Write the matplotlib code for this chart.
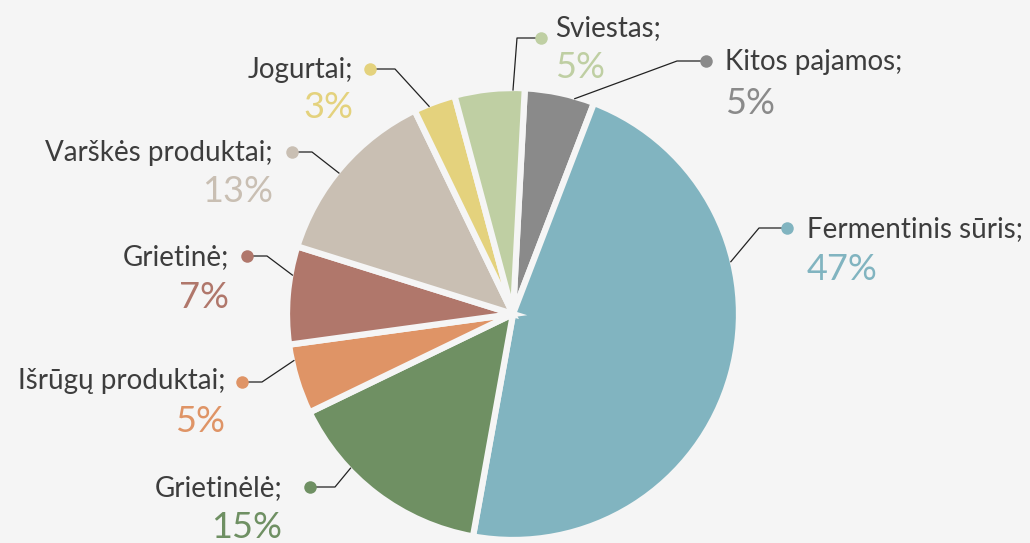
import numpy as np
import matplotlib.pyplot as plt

# data (clockwise from the top)
names = ['Kitos pajamos;', 'Fermentinis sūris;', 'Grietinėlė;', 'Išrūgų produktai;',
         'Grietinė;', 'Varškės produktai;', 'Jogurtai;', 'Sviestas;']
shares = [5, 47, 15, 5, 7, 13, 3, 5]
pct_labels = ['5%', '47%', '15%', '5%', '7%', '13%', '3%', '5%']
colors = ['#8a8a8a', '#81b4c0', '#6f9063', '#df9466',
          '#b0776b', '#c9bfb3', '#e4d27d', '#bfcfa3']

BG = '#f5f5f5'
TXT = '#3d3d3d'
W, H = 1030, 543

# layout (pixel coords, y from top)
cx, cy, rad = 513, 314, 226
# angle where leader leaves the wedge, elbow point, dot point, side
leader_ang = [74, 13.5, 223.5, 192, 170, 141, 112, 90]
elbows = [(677, 61), (759, 228), (335, 487), (262, 382), (267, 256), (312, 152), (395, 69), (517, 38)]
dots = [(706, 61), (787, 228), (310, 487), (242, 382), (247, 256), (292, 152), (370, 69), (541, 38)]
text_x = [725, 807, 282, 225, 229, 273, 353, 555]
name_dy = [1, 1, 1, -1, 1, 1, 1, -10]
pct_dy = [43, 42, 41, 39, 42, 39, 39, 30]
side = ['l', 'l', 'r', 'r', 'r', 'r', 'r', 'l']


def fy(y):
    return H - y


fig = plt.figure(figsize=(W / 100, H / 100), dpi=100, facecolor=BG)
ax = fig.add_axes([0, 0, 1, 1])
ax.set_facecolor(BG)

ax.pie(shares, colors=colors, startangle=87, counterclock=False,
       center=(cx, fy(cy)), radius=rad,
       wedgeprops=dict(edgecolor=BG, linewidth=4.5))

ax.set_xlim(0, W)
ax.set_ylim(0, H)
ax.set_aspect('equal')
ax.axis('off')

for i in range(len(names)):
    a = np.deg2rad(leader_ang[i])
    x0 = cx + (rad - 2) * np.cos(a)
    y0 = fy(cy) + (rad - 2) * np.sin(a)
    ex, ey = elbows[i]
    dx, dy = dots[i]
    ax.plot([x0, ex, dx], [y0, fy(ey), fy(dy)], color='#222222', lw=0.9, zorder=3)
    ax.plot(dx, fy(dy), 'o', ms=9, color=colors[i], mec='none', zorder=4)
    ha = 'left' if side[i] == 'l' else 'right'
    ax.text(text_x[i], fy(dy + name_dy[i]), names[i], ha=ha, va='center', fontsize=20,
            color=TXT, family='Lato')
    ax.text(text_x[i], fy(dy + pct_dy[i]), pct_labels[i], ha=ha, va='center', fontsize=26,
            color=colors[i], family='Lato')

fig.savefig('out.png', dpi=100, facecolor=BG)
